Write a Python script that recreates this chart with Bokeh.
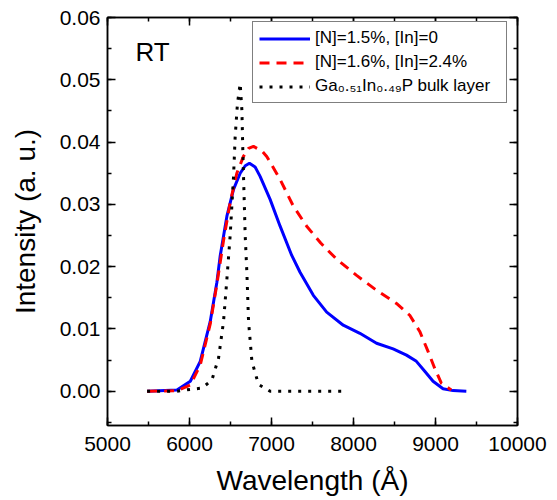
from bokeh.plotting import figure
from bokeh.models import (Legend, LegendItem, LinearAxis, SingleIntervalTicker, Label,
                          Range1d, NumeralTickFormatter, PrintfTickFormatter, CustomJSTickFormatter)
from bokeh.embed import file_html
from bokeh.resources import INLINE

# ---- data ----
wl_a = [5483, 5847, 6010, 6131, 6253, 6334, 6375, 6456, 6537, 6618, 6680, 6731, 6800, 6861,
        6983, 7105, 7247, 7348, 7510, 7673, 7875, 8078, 8281, 8483, 8646, 8767, 8869, 8970,
        9092, 9214, 9376]
int_a = [0.0, 0.0002, 0.0016, 0.0048, 0.0112, 0.0175, 0.0218, 0.0281, 0.0324, 0.0350, 0.0362,
         0.0366, 0.0360, 0.0345, 0.0308, 0.0265, 0.0218, 0.0191, 0.0154, 0.0127, 0.0106, 0.0093,
         0.0077, 0.0068, 0.0058, 0.0048, 0.0032, 0.0016, 0.0004, 0.0001, 0.0]

wl_b = [5483, 5847, 6010, 6131, 6253, 6334, 6415, 6496, 6577, 6658, 6720, 6780, 6881, 6942,
        7105, 7267, 7429, 7600, 7794, 8038, 8281, 8524, 8686, 8808, 8909, 8990, 9071, 9192]
int_b = [0.0, 0.0001, 0.0010, 0.0042, 0.0108, 0.0172, 0.0242, 0.0303, 0.0350, 0.0377, 0.0390,
         0.0393, 0.0386, 0.0377, 0.0340, 0.0297, 0.0265, 0.0238, 0.0212, 0.0186, 0.0162, 0.0141,
         0.0122, 0.0096, 0.0064, 0.0037, 0.0013, 0.0002]

wl_c = [5483, 5847, 6010, 6151, 6273, 6354, 6415, 6456, 6496, 6537, 6557, 6585, 6618, 6639,
        6651, 6679, 6700, 6720, 6761, 6841, 6983, 7400, 7916]
int_c = [0.0, 0.0, 0.0003, 0.0005, 0.0018, 0.0053, 0.0112, 0.0180, 0.0250, 0.0345, 0.0409,
         0.0462, 0.0494, 0.0451, 0.0382, 0.0250, 0.0190, 0.0112, 0.0048, 0.0011, 0.0, 0.0, 0.0]

labels = ["[N]=1.5%, [In]=0", "[N]=1.6%, [In]=2.4%", "Ga\u2080.\u2085\u2081In\u2080.\u2084\u2089P bulk layer"]

FONT = "Liberation Sans"

p = figure(width=553, height=498, output_backend="svg", toolbar_location=None,
           x_range=Range1d(5000, 10000), y_range=Range1d(-0.0055, 0.06),
           min_border_left=107, min_border_right=36, min_border_top=17, min_border_bottom=70)
p.grid.visible = False
p.outline_line_color = "black"
p.outline_line_width = 1.5
p.background_fill_color = "white"
p.border_fill_color = "white"

r1 = p.line(wl_a, int_a, line_color="#0000ff", line_width=3)
r2 = p.line(wl_b, int_b, line_color="#ff0000", line_width=3, line_dash="10 7")
r3 = p.line(wl_c, int_c, line_color="black", line_width=3, line_dash="3 7")


def style(ax, show):
    ax.major_tick_in = 8
    ax.major_tick_out = 0
    ax.minor_tick_in = 4
    ax.minor_tick_out = 0
    ax.axis_line_width = 1.5
    ax.major_tick_line_width = 1.5
    ax.minor_tick_line_width = 1.5
    ax.axis_line_color = "black"
    ax.major_tick_line_color = "black"
    ax.minor_tick_line_color = "black"
    if show:
        ax.major_label_text_font = FONT
        ax.major_label_text_font_size = "21px"
        ax.major_label_text_color = "black"
        ax.axis_label_text_font = FONT
        ax.axis_label_text_font_style = "normal"
        ax.axis_label_text_color = "black"
    else:
        ax.formatter = CustomJSTickFormatter(code="return ''")
        ax.major_label_standoff = 0


xt = SingleIntervalTicker(interval=1000, num_minor_ticks=2)
yt = SingleIntervalTicker(interval=0.01, num_minor_ticks=2)

xa = p.xaxis[0]
xa.ticker = xt
xa.formatter = PrintfTickFormatter(format="%d")
xa.axis_label = "Wavelength (\u00c5)"
style(xa, True)
xa.axis_label_text_font_size = "28px"
xa.major_label_standoff = 11
xa.axis_label_standoff = 11

ya = p.yaxis[0]
ya.ticker = yt
ya.formatter = NumeralTickFormatter(format="0.00")
ya.axis_label = "Intensity (a. u.)"
style(ya, True)
ya.axis_label_text_font_size = "28px"
ya.major_label_standoff = 7
ya.axis_label_standoff = 16

top = LinearAxis(ticker=SingleIntervalTicker(interval=1000, num_minor_ticks=2))
style(top, False)
p.add_layout(top, "above")
right = LinearAxis(ticker=SingleIntervalTicker(interval=0.01, num_minor_ticks=2))
style(right, False)
p.add_layout(right, "right")

legend = Legend(items=[LegendItem(label=labels[0], renderers=[r1]),
                       LegendItem(label=labels[1], renderers=[r2]),
                       LegendItem(label=labels[2], renderers=[r3])],
                location=(145, 322))
legend.label_text_font = FONT
legend.label_text_font_size = "17px"
legend.label_text_color = "black"
legend.glyph_width = 51
legend.glyph_height = 17
legend.label_height = 17
legend.label_width = 185
legend.label_standoff = 5
legend.spacing = 4
legend.padding = 6
legend.margin = 0
legend.border_line_color = "black"
legend.border_line_width = 1.5
legend.background_fill_alpha = 1.0
p.add_layout(legend)

p.add_layout(Label(x=5340, y=0.0544, text="RT", text_font=FONT, text_font_size="26px",
                   text_color="black", text_baseline="alphabetic"))

open("out.html", "w").write(file_html(p, INLINE))
